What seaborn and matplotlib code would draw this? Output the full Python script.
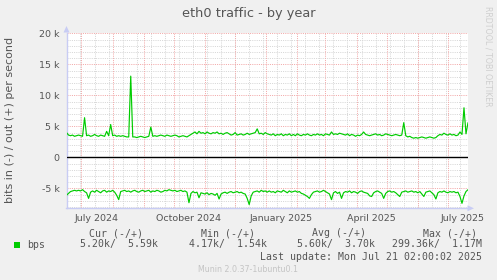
import matplotlib
matplotlib.use("Agg")
import matplotlib.pyplot as plt
import matplotlib.patches as mpatches
import numpy as np
import pandas as pd
import seaborn as sns

W, H = 497, 280

# ---------------- data (k bits per second, one sample every 2 days) ----------------
out_k = [4.0, 3.6, 3.5, 3.6, 3.4, 3.5, 3.6,
         3.5, 3.4, 6.4, 3.5,
         3.6, 3.4, 3.5, 3.7, 3.5, 3.4, 3.6, 3.5,
         3.4, 4.2, 3.5, 5.3,
         3.5, 3.6, 3.4, 3.5, 3.4, 3.5, 3.4, 3.3,
         3.3, 13.1, 3.3,
         3.3, 3.2, 3.3, 3.4, 3.3, 3.2, 3.3, 3.4,
         4.9, 3.4,
         3.5, 3.4, 3.5, 3.6, 3.5, 3.4, 3.6, 3.5, 3.4, 3.5, 3.6, 3.5, 3.3, 3.4, 3.5, 3.4, 3.3, 3.5,
         3.7, 3.9, 4.1, 3.8, 4.2,
         3.9, 4.0, 3.8, 4.1, 3.9, 3.8, 4.0, 3.9, 4.1, 3.8, 3.9, 3.7, 3.9, 4.0,
         3.8, 3.6, 3.7, 4.0, 3.6, 3.7, 3.8, 3.6, 3.7, 3.9, 3.7, 3.8, 3.9, 4.0,
         4.6, 3.8,
         3.9, 3.7, 4.0, 3.8,
         3.7, 3.6, 3.8, 3.5, 3.7, 3.6, 3.8, 3.5, 3.7, 3.6, 3.8, 3.5,
         3.7, 3.5, 3.8, 3.6, 3.5, 3.7, 3.6, 3.8, 3.6, 3.5, 3.7, 3.6, 3.8,
         3.6, 3.7, 3.5, 3.8, 3.7, 3.6, 4.1, 3.7,
         3.8, 3.7, 3.9, 3.8, 3.7, 3.6, 3.8, 3.5, 3.7, 3.6, 3.4, 3.6, 3.5, 3.7,
         4.1,
         3.7, 3.6, 3.5, 3.6, 3.7, 3.8, 3.6, 3.7, 3.5, 3.6, 3.8, 3.7, 3.6, 3.5, 3.6, 3.7, 3.6, 3.5,
         3.6, 5.6, 3.5,
         3.3, 3.4, 3.2, 3.1, 3.2, 3.1, 3.2, 3.3, 3.2, 3.1, 3.2, 3.3, 3.2, 3.1, 3.2,
         3.5, 3.7, 3.6, 3.9, 3.7, 3.6, 3.8, 3.6, 3.7, 3.5, 3.6,
         4.1, 3.7, 8.0, 3.8, 5.6]

in_k = [-6.1, -5.8, -5.5, -5.4, -5.3, -5.4, -5.3, -5.4, -5.2, -5.5, -5.7, -6.6, -5.6,
        -5.4, -5.6, -5.3, -5.5, -5.7, -5.4, -5.3, -5.6, -5.4, -5.5, -5.3, -5.6,
        -6.1, -6.8, -5.5,
        -5.4, -5.3, -5.5, -5.4, -5.6, -5.4, -5.3, -5.5, -5.6, -5.4, -5.3, -5.5, -5.4, -5.3, -5.6, -5.4, -5.5, -5.3,
        -5.4, -5.6, -5.5, -5.3, -5.4, -5.2, -5.3, -5.4, -5.3, -5.5, -5.4, -5.3, -5.5, -5.4, -5.6,
        -7.3, -5.8, -5.5, -5.7, -5.6, -6.5, -5.7,
        -5.8, -5.9, -5.7, -6.0, -5.8, -5.9, -6.1, -5.8,
        -6.7, -5.9,
        -5.7, -5.6, -5.8, -5.6, -5.5, -5.7, -5.6, -5.5, -5.7, -5.6, -5.8, -5.9,
        -6.6, -7.6, -6.2,
        -5.6, -5.5, -5.4, -5.6, -5.3, -5.5, -5.4, -5.6,
        -5.4, -5.6, -5.5, -5.7, -5.4, -5.5, -5.6, -5.3, -5.5, -5.7, -5.4, -5.6,
        -5.5, -5.4, -5.6, -5.5, -5.8, -5.9, -6.1,
        -6.3, -6.6, -6.0,
        -5.6, -5.5, -5.4, -5.6, -5.5, -5.3, -5.5, -5.7,
        -5.9, -6.8, -5.7,
        -5.5, -5.8, -5.6, -6.6, -5.7,
        -5.5, -5.6, -5.4, -5.7, -5.5, -5.6, -5.8, -5.5, -5.4,
        -5.6, -5.7, -5.8, -6.2, -6.3, -5.7,
        -5.5, -5.4, -5.6, -5.8, -6.6, -5.8,
        -5.5, -5.4, -5.6, -5.5, -5.7, -6.0, -6.3, -5.6,
        -5.5, -5.4, -5.6, -5.5, -5.4, -5.6, -5.5, -5.7, -5.5,
        -5.9, -6.3, -5.6,
        -5.5, -5.4, -5.7, -6.0, -6.7, -5.7,
        -5.5, -5.6, -5.4, -5.6, -5.7, -5.5, -5.6, -5.5, -5.7, -5.6,
        -6.3, -7.4, -6.2, -5.5, -5.2]

assert len(out_k) == 201 and len(in_k) == 201

start_time = pd.Timestamp("2024-06-16 02:00")
end_time = pd.Timestamp("2025-07-21 02:00")
dates = pd.date_range(start_time, periods=len(out_k), freq="2D")

x_labels = ["July 2024", "October 2024", "January 2025", "April 2025", "July 2025"]
x_label_months = ["2024-07-01", "2024-10-01", "2025-01-01", "2025-04-01", "2025-07-01"]
y_ticks = [-5, 0, 5, 10, 15, 20]
y_tick_labels = ["-5 k", "0", "5 k", "10 k", "15 k", "20 k"]

title = "eth0 traffic - by year"
y_title = "bits in (-) / out (+) per second"
stat_headers = ["Cur (-/+)", "Min (-/+)", "Avg (-/+)", "Max (-/+)"]
stat_values = ["5.20k/  5.59k", "4.17k/  1.54k", "5.60k/  3.70k", "299.36k/  1.17M"]
series_name = "bps"
last_update = "Last update: Mon Jul 21 02:00:02 2025"
footer = "Munin 2.0.37-1ubuntu0.1"
side_text = "RRDTOOL / TOBI OETIKER"

# ---------------- style ----------------
sns.set_style("white")
plt.rcParams["font.family"] = ["DejaVu Sans"]

GREEN = "#00CC00"
TXT = "#555555"
AXC = "#C8CCF4"
MINOR = "#D6D6D6"
MAJOR = "#F2A8A8"

fig = plt.figure(figsize=(W / 100, H / 100), dpi=100, facecolor="#F0F0F0")


def fx(x):
    return x / W


def fy(y):
    return 1 - y / H


L, R, T, B = 66.5, 468.0, 33.3, 208.3
ax = fig.add_axes([fx(L), fy(B), (R - L) / W, (B - T) / H])
ax.set_facecolor("white")

ymin, ymax = -8.2, 20.0
ax.set_xlim(start_time, end_time)
ax.set_ylim(ymin, ymax)

grid_kw = dict(lw=0.72, dashes=(1, 1.2))
# minor grid
for v in range(-8, 21):
    if v % 5 != 0:
        ax.axhline(v, color=MINOR, zorder=1, **grid_kw)
for d in pd.date_range("2024-06-30", end_time, freq="14D"):
    ax.axvline(d, color=MINOR, zorder=1, **grid_kw)
# major grid
for v in y_ticks:
    ax.axhline(v, color=MAJOR, zorder=2, **grid_kw)
for d in pd.date_range("2024-07-01", end_time, freq="MS"):
    ax.axvline(d, color=MAJOR, zorder=2, **grid_kw)

ax.axhline(0, color="black", lw=1.0, zorder=3)

df = pd.DataFrame({"date": dates, "out": out_k, "in": in_k})
sns.lineplot(data=df, x="date", y="out", color=GREEN, lw=0.85, ax=ax, zorder=4, legend=False)
sns.lineplot(data=df, x="date", y="in", color=GREEN, lw=0.85, ax=ax, zorder=4, legend=False)

ax.set_xlabel("")
ax.set_ylabel("")
ax.set_yticks(y_ticks)
ax.set_yticklabels(y_tick_labels)
label_pos = [pd.Timestamp(m) + pd.Timedelta(days=15) for m in x_label_months]
ax.set_xticks(label_pos)
ax.set_xticklabels(x_labels)
ax.tick_params(axis="y", length=0, pad=5, labelsize=6.8, labelcolor=TXT)
ax.tick_params(axis="x", length=0, pad=4, labelsize=6.8, labelcolor=TXT)

for s in ["top", "right"]:
    ax.spines[s].set_visible(False)
for s in ["left", "bottom"]:
    ax.spines[s].set_color(AXC)
    ax.spines[s].set_linewidth(1.0)

# axis arrows
fig.add_artist(mpatches.Polygon([(fx(63.5), fy(32.5)), (fx(69.5), fy(32.5)), (fx(66.5), fy(26))],
                                closed=True, transform=fig.transFigure, color=AXC, lw=0))
fig.add_artist(mpatches.Polygon([(fx(467.5), fy(205.3)), (fx(467.5), fy(211.3)), (fx(474), fy(208.3))],
                                closed=True, transform=fig.transFigure, color=AXC, lw=0))

# titles
fig.text(fx(248.7), fy(13.5), title, ha="center", va="center", fontsize=9.3, color=TXT)
fig.text(fx(10), fy(120), y_title, ha="center", va="center", rotation=90, fontsize=8.0, color=TXT)
fig.text(fx(488.3), fy(56), side_text, ha="center", va="center", rotation=270, fontsize=5.7,
         color="#CFCFCF")

# legend block
mono = "DejaVu Sans Mono"
hdr_x = [89.3, 201.0, 312.3, 423.3]
for x, t in zip(hdr_x, stat_headers):
    fig.text(fx(x), fy(236.5), t, ha="left", va="baseline", family=mono, fontsize=7.1, color=TXT)
val_end = [157.7, 266.7, 375.0, 482.3]
for x, t in zip(val_end, stat_values):
    fig.text(fx(x), fy(247.5), t, ha="right", va="baseline", family=mono, fontsize=7.1, color=TXT)
fig.add_artist(mpatches.Rectangle((fx(14), fy(247.7)), 5.7 / W, 5.7 / H,
                                  transform=fig.transFigure, color=GREEN, lw=0))
fig.text(fx(26.7), fy(247.5), series_name, ha="left", va="baseline", family=mono, fontsize=7.1, color=TXT)
fig.text(fx(482.3), fy(260), last_update, ha="right", va="baseline", family=mono, fontsize=7.1, color=TXT)
fig.text(fx(248), fy(272), footer, ha="center", va="baseline", fontsize=5.7, color="#C4C4C4")

fig.savefig("out.png", dpi=100, facecolor=fig.get_facecolor())
